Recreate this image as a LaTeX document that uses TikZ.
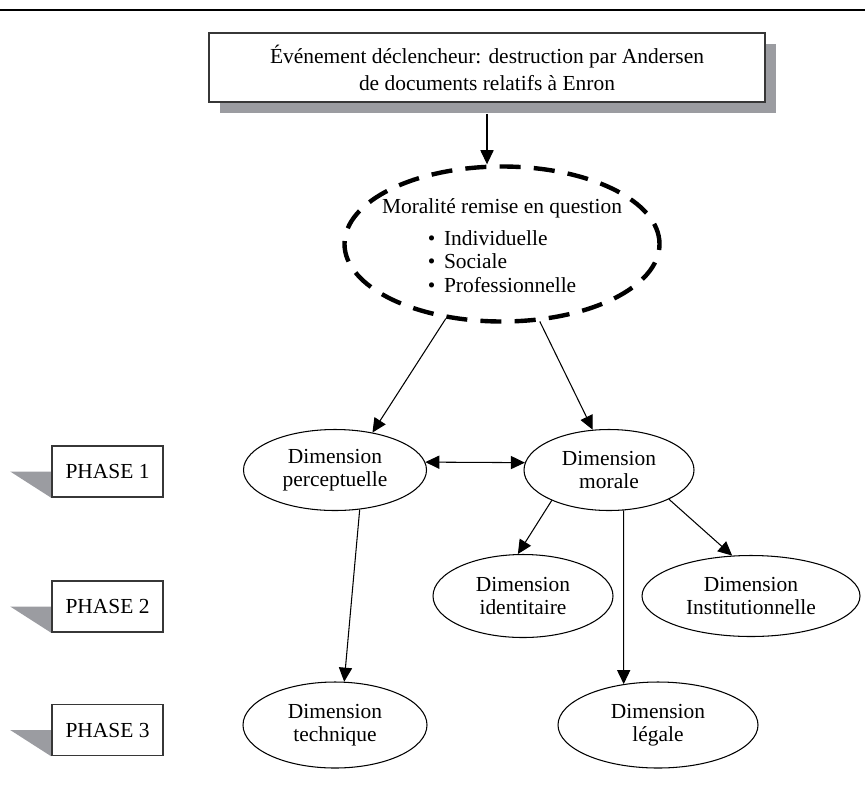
\documentclass[tikz,border=0pt]{standalone}
\usepackage{fontspec}
\setmainfont{Liberation Serif}
\usetikzlibrary{shapes,arrows.meta,positioning,shadows,backgrounds}
\definecolor{shadowgray}{RGB}{155,156,161}
\definecolor{framegray}{RGB}{55,55,55}
\tikzset{
	event/.style = {draw=framegray, line width=1.1pt, fill=white, rectangle, minimum width=11.12cm, minimum height=1.38cm, align=center, font=\fontsize{12.2}{15.4}\selectfont, drop shadow={shadow xshift=0.22cm, shadow yshift=-0.22cm, fill=shadowgray, opacity=1}},
	moral/.style = {draw, ellipse, line width=2.5pt, dash pattern=on 12pt off 7.5pt, minimum width=6.3cm, minimum height=3.1cm, inner sep=0pt},
	moraltext/.style = {align=center, font=\fontsize{12.2}{13.5}\selectfont},
	dim/.style = {draw, ellipse, line width=0.6pt, minimum width=3.66cm, minimum height=1.62cm, inner sep=0pt, align=center},
	phase/.style = {draw=framegray, line width=0.9pt, fill=white, rectangle, minimum width=2.22cm, minimum height=1.02cm},
	link/.style = {->, line width=0.6pt}
}

\begin{document}
\begin{tikzpicture}[auto, >={Triangle[length=8pt,width=7.5pt]}, font=\fontsize{12.2}{13}\selectfont]
	\useasboundingbox (0,0) rectangle (17.3,-15.7);
	\draw [line width=1.7pt] (0,-0.2) -- (17.3,-0.2);

	\node [event] (event) at (9.74,-1.35) {Événement déclencheur: destruction par Andersen\\de documents relatifs à Enron};
	\node [moral] (moralite) at (10.04,-4.88) {};
	\node [moraltext] (moraltxt) at ([yshift=-0.1cm]moralite.center) {Moralité remise en question\\[5pt]
		\begin{tabular}{@{}l@{}}
			\textbullet\hspace{5pt}Individuelle\\
			\textbullet\hspace{5pt}Sociale\\
			\textbullet\hspace{5pt}Professionnelle
		\end{tabular}};

	\node [dim] (percep) at (6.70,-9.40) {Dimension\\perceptuelle};
	\node [dim, right of=percep, node distance=5.48cm, minimum width=3.4cm] (morale) {Dimension\\morale};
	\node [dim, minimum width=3.6cm, minimum height=1.66cm] (ident) at (10.46,-11.92) {Dimension\\identitaire};
	\node [dim, right of=ident, node distance=4.56cm, minimum width=4.36cm] (instit) {Dimension\\Institutionnelle};
	\node [dim, below of=percep, node distance=5.1cm, minimum width=3.68cm, minimum height=1.72cm] (technique) {Dimension\\technique};
	\node [dim, right of=technique, node distance=6.46cm, minimum width=4cm, minimum height=1.72cm] (legale) {Dimension\\légale};

	\node [phase] (phase1) at (2.15,-9.43) {PHASE 1};
	\node [phase, below of=phase1, node distance=2.7cm] (phase2) {PHASE 2};
	\node [phase, below of=phase2, node distance=2.47cm] (phase3) {PHASE 3};
	\begin{scope}[on background layer]
		\foreach \p in {phase1,phase2,phase3}
			\fill [shadowgray] (\p.west) -- (\p.south west) -- ([xshift=-0.82cm]\p.west) -- cycle;
	\end{scope}

	\draw [link] ([yshift=-0.22cm]event.south) -- (event.south |- moralite.north);
	\draw [link] (moralite.233) -- (percep.45);
	\draw [link] (moralite.296) -- (morale.112);
	\draw [link, <->] (percep.5) -- (morale.175);
	\draw [link] (percep.302) -- (technique.78);
	\draw [link] (morale.208) -- (ident.97);
	\draw [link] (morale.334) -- (instit.115);
	\draw [link] (morale.290) -- (legale.130);
\end{tikzpicture}
\end{document}
